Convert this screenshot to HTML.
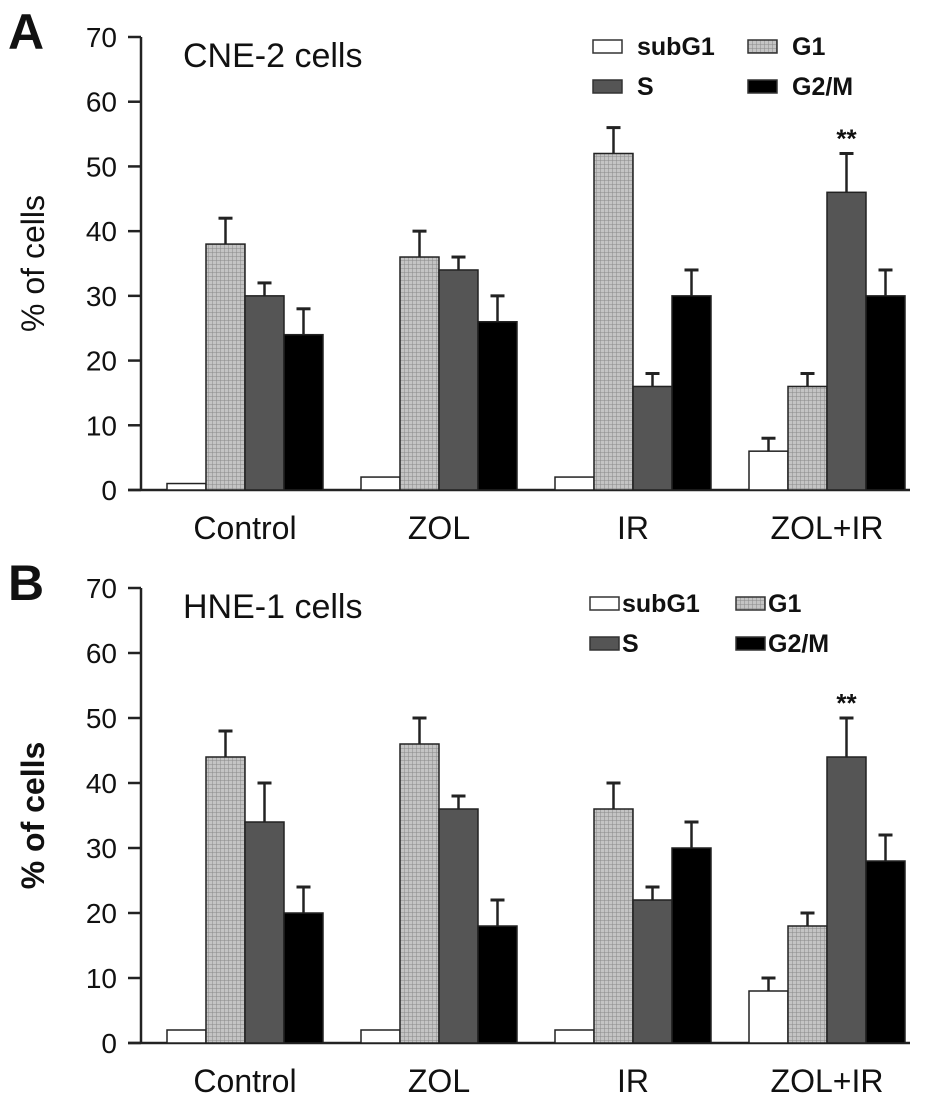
<!DOCTYPE html>
<html><head><meta charset="utf-8"><style>
body{margin:0;background:#fff;}
svg text{font-family:"Liberation Sans",Arial,sans-serif;fill:#111;}
</style></head><body>
<svg id="chart" width="945" height="1103" viewBox="0 0 945 1103" xmlns="http://www.w3.org/2000/svg">
<defs>
<pattern id="grid" width="4" height="4" patternUnits="userSpaceOnUse">
<rect width="4" height="4" fill="#c4c4c4"/>
<path d="M0 0H4M0 0V4" stroke="#8a8a8a" stroke-width="1"/>
</pattern>
</defs>
</svg>
<script>
const categories = ["Control","ZOL","IR","ZOL+IR"];
const seriesNames = ["subG1","G1","S","G2/M"];
const yTicks = [0,10,20,30,40,50,60,70];
const aSubG1 = [1,2,2,6], aG1 = [38,36,52,16], aS = [30,34,16,46], aG2M = [24,26,30,30];
const aSubG1Err = [0,0,0,2], aG1Err = [4,4,4,2], aSErr = [2,2,2,6], aG2MErr = [4,4,4,4];
const bSubG1 = [2,2,2,8], bG1 = [44,46,36,18], bS = [34,36,22,44], bG2M = [20,18,30,28];
const bSubG1Err = [0,0,0,2], bG1Err = [4,4,4,2], bSErr = [6,2,2,6], bG2MErr = [4,4,4,4];
const aStars = [null,null,null,"**"], bStars = [null,null,null,"**"];

const svg = document.getElementById('chart');
const NS = 'http://www.w3.org/2000/svg';
function mk(tag, attrs, parent){const e=document.createElementNS(NS,tag);for(const k in attrs)e.setAttribute(k,attrs[k]);(parent||svg).appendChild(e);return e;}
const fills = ["#ffffff","url(#grid)","#555555","#000000"];

function panel(p){
  const g = mk('g',{});
  
  
  const y = v => p.y0 - v*(p.y0-p.y70)/70;
  const xAxis = 141, groupX = i => 167 + i*194, bw = 39;
  let t = mk('text',{x:8,y:p.y70+12,'font-size':50,'font-weight':'bold'},g); t.textContent=p.letter;
   
  t = mk('text',{x:183,y:p.y70+30,'font-size':34},g); t.textContent=p.title;
   
  let l = mk('line',{x1:xAxis,y1:p.y70,x2:xAxis,y2:p.y0,stroke:'#222','stroke-width':2.5},g);
   
  yTicks.forEach(v=>{
    mk('line',{x1:128,y1:y(v),x2:xAxis,y2:y(v),stroke:'#222','stroke-width':2.5},g);
    const tt = mk('text',{x:117,y:y(v)+10,'font-size':28,'text-anchor':'end'},g); tt.textContent=v;
     
  });
  l = mk('line',{x1:128,y1:p.y0,x2:910,y2:p.y0,stroke:'#222','stroke-width':2.5},g);
   
  const cy=(p.y0+p.y70)/2;
  t = mk('text',{x:44,y:cy,'font-size':32,'font-weight':p.bold?'bold':'normal','text-anchor':'middle',transform:`rotate(-90 44 ${cy})`},g);
  t.textContent='% of cells';  
  categories.forEach((c,i)=>{
    const tt = mk('text',{x:groupX(i)+2*bw,y:p.y0+49,'font-size':32,'text-anchor':'middle'},g); tt.textContent=c;
     
    p.series.forEach((s,k)=>{
      const x = groupX(i)+k*bw;
      const r = mk('rect',{x:x,y:y(s[i]),width:bw,height:p.y0-y(s[i]),fill:fills[k],stroke:'#222','stroke-width':1.5},g);
      
      
      const e = p.errs[k][i];
      if(e>0){
        const cx = x+bw/2;
        mk('line',{x1:cx,y1:y(s[i]),x2:cx,y2:y(s[i]+e),stroke:'#222','stroke-width':2.5},g);
        mk('line',{x1:cx-7,y1:y(s[i]+e),x2:cx+7,y2:y(s[i]+e),stroke:'#222','stroke-width':3},g);
      }
    });
    if(p.stars[i]){
      const sx = groupX(i)+2*bw+bw/2, top = p.series[2][i]+p.errs[2][i];
      const st = mk('text',{x:sx,y:y(top)-6,'font-size':26,'font-weight':'bold','text-anchor':'middle'},g); st.textContent=p.stars[i];
       
    }
  });
  const lg = mk('g',{},g);
   
  const pos = [[0,0],[1,0],[0,1],[1,1]];
  pos.forEach((pp,k)=>{
    const bx = p.lx + pp[0]*p.lcol, by = p.ly + pp[1]*40;
    const r = mk('rect',{x:bx,y:by,width:29,height:13,fill:fills[k],stroke:'#333','stroke-width':1.5},lg);
     
    const tt = mk('text',{x:bx+p.tgap,y:by+15,'font-size':25,'font-weight':'bold'},lg); tt.textContent=seriesNames[k];
     
  });
}
panel({letter:'A',title:'CNE-2 cells',bold:false,y0:490,y70:37,
  series:[aSubG1,aG1,aS,aG2M],errs:[aSubG1Err,aG1Err,aSErr,aG2MErr],stars:aStars,lx:593,ly:40,lcol:155,tgap:44});
panel({letter:'B',title:'HNE-1 cells',bold:true,y0:1043,y70:588,
  series:[bSubG1,bG1,bS,bG2M],errs:[bSubG1Err,bG1Err,bSErr,bG2MErr],stars:bStars,lx:590,ly:597,lcol:146,tgap:32});
</script>
</body></html>
